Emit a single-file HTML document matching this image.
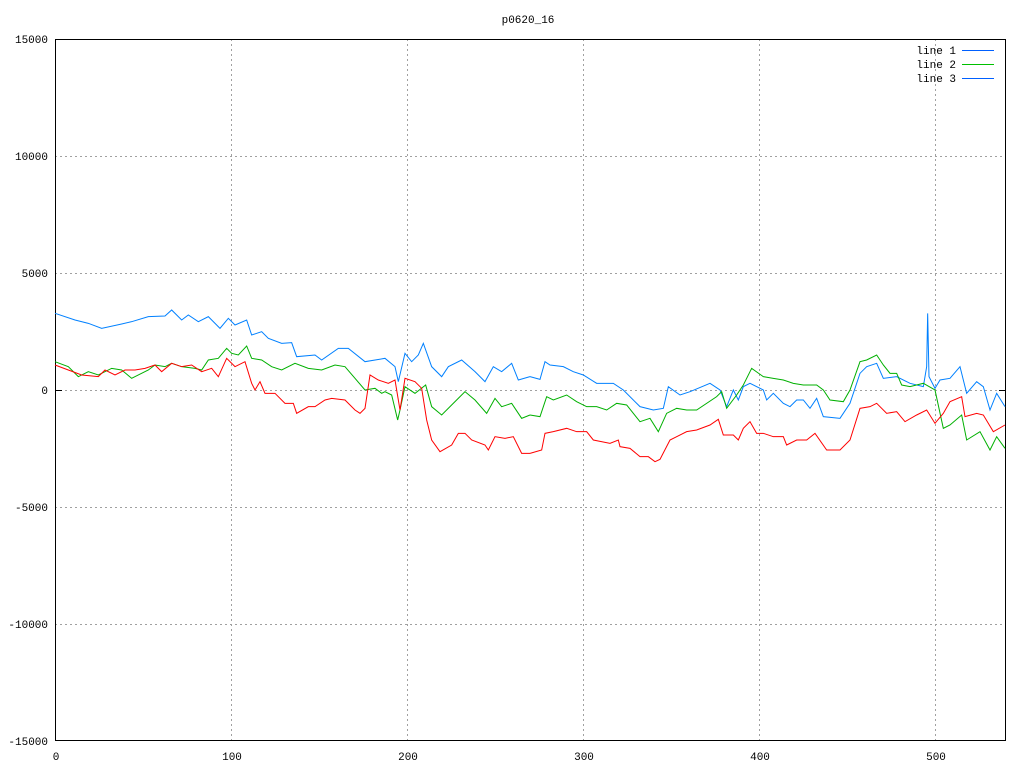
<!DOCTYPE html>
<html><head><style>
body{margin:0;background:#fff;}
svg{display:block;font-family:"Liberation Mono",monospace;font-size:11px;}
</style></head><body>
<svg width="1024" height="768" xmlns="http://www.w3.org/2000/svg">
<rect width="1024" height="768" fill="#fff"/>
<g stroke="#a0a0a0" stroke-dasharray="2,3" stroke-width="1">
<line x1="231.5" y1="39" x2="231.5" y2="741"/><line x1="407.5" y1="39" x2="407.5" y2="741"/><line x1="583.5" y1="39" x2="583.5" y2="741"/><line x1="759.5" y1="39" x2="759.5" y2="741"/><line x1="935.5" y1="39" x2="935.5" y2="741"/>
<line x1="55" y1="156.5" x2="1006" y2="156.5"/><line x1="55" y1="273.5" x2="1006" y2="273.5"/><line x1="55" y1="390.5" x2="1006" y2="390.5"/><line x1="55" y1="507.5" x2="1006" y2="507.5"/><line x1="55" y1="624.5" x2="1006" y2="624.5"/>
</g>
<rect x="55.5" y="39.5" width="950" height="701" fill="none" stroke="#000"/>
<g stroke="#000"><line x1="55" y1="390.5" x2="62" y2="390.5"/><line x1="999" y1="390.5" x2="1006" y2="390.5"/></g>
<g text-anchor="end">
<text x="48" y="43">15000</text><text x="48" y="160">10000</text><text x="48" y="277">5000</text><text x="48" y="394">0</text><text x="48" y="511">-5000</text><text x="48" y="628">-10000</text><text x="48" y="745">-15000</text>
</g>
<g text-anchor="middle">
<text x="56" y="760">0</text><text x="232" y="760">100</text><text x="408" y="760">200</text><text x="584" y="760">300</text><text x="760" y="760">400</text><text x="936" y="760">500</text>
<text x="528" y="23">p0620_16</text>
</g>
<g text-anchor="end"><text x="956" y="54">line 1</text><text x="956" y="68">line 2</text><text x="956" y="82">line 3</text></g>
<line x1="962" y1="50.5" x2="994" y2="50.5" stroke="#0060ff"/>
<line x1="962" y1="64.5" x2="994" y2="64.5" stroke="#00c000"/>
<line x1="962" y1="78.5" x2="994" y2="78.5" stroke="#0060ff"/>
<g fill="none" stroke-width="1">
<g transform="translate(55,300) scale(0.33333)">
<polyline vector-effect="non-scaling-stroke" stroke="#0080ff" points="0,40 60,60 100,70 140,85 200,72 230,65 280,50 330,48 350,30 380,60 400,45 430,65 460,50 495,85 520,55 540,75 575,60 590,105 620,95 640,115 680,130 710,128 725,170 780,165 800,180 850,145 880,145 930,185 990,175 1020,200 1030,245 1050,160 1070,185 1090,165 1105,130 1130,200 1160,230 1180,200 1220,180 1260,215 1290,245 1315,200 1340,215 1370,190 1390,240 1425,230"/>
<polyline vector-effect="non-scaling-stroke" stroke="#00b000" points="0,185 40,200 70,230 100,215 130,225 170,205 200,210 230,235 280,210 300,195 330,200 350,190 380,200 420,205 440,210 460,180 490,175 515,145 530,160 550,165 575,138 590,175 620,180 650,200 680,210 720,190 760,205 800,210 840,195 870,200 900,235 930,270 960,265 980,280 990,275 1010,285 1028,360 1035,330 1050,260 1080,280 1112,255 1130,320 1160,345 1200,305 1230,275 1260,300 1295,340 1320,295 1340,320 1370,310 1400,355 1425,345"/>
<polyline vector-effect="non-scaling-stroke" stroke="#ff0000" points="0,195 40,210 80,225 130,230 150,210 180,225 210,210 240,210 270,205 300,195 320,215 350,190 380,200 410,195 440,215 470,205 490,230 515,175 540,200 570,185 590,250 600,270 615,245 630,280 660,280 690,310 715,310 725,340 760,320 780,320 810,300 830,295 870,300 900,330 915,340 930,325 945,225 970,240 1000,250 1020,240 1035,330 1050,235 1080,245 1100,265 1115,360 1130,420 1155,455 1190,435 1210,400 1230,400 1250,420 1290,435 1300,450 1320,410 1350,415 1375,410 1400,460 1425,460"/>
</g>
<g transform="translate(530,300) scale(0.33333)">
<polyline vector-effect="non-scaling-stroke" stroke="#0080ff" points="0,230 30,238 45,185 60,195 100,200 130,215 160,225 200,250 250,250 280,270 330,320 370,330 400,325 415,260 450,285 480,275 540,250 570,270 590,320 610,270 625,300 640,260 660,250 700,270 710,300 730,280 760,310 780,320 800,300 820,300 840,325 860,295 880,350 930,355 960,310 990,220 1010,200 1040,190 1060,235 1100,230 1140,250 1180,260 1190,200 1193,40 1197,230 1215,265 1230,240 1260,235 1290,200 1310,280 1340,245 1360,260 1380,330 1400,280 1425,320"/>
<polyline vector-effect="non-scaling-stroke" stroke="#00b000" points="0,345 30,350 50,290 70,300 110,285 140,305 170,320 200,320 230,330 260,310 290,315 330,365 360,355 385,395 410,340 440,325 470,330 500,330 560,290 575,275 590,325 620,285 640,255 665,205 700,230 730,235 760,240 790,250 820,255 860,255 880,270 900,300 940,305 960,270 990,185 1010,180 1040,165 1060,195 1080,220 1100,220 1115,255 1140,260 1180,250 1215,270 1240,385 1260,375 1295,345 1310,420 1350,395 1380,450 1400,410 1425,445"/>
<polyline vector-effect="non-scaling-stroke" stroke="#ff0000" points="0,460 35,450 45,400 70,395 110,385 140,395 170,395 190,420 240,430 265,420 270,440 300,445 330,470 355,470 375,485 390,478 420,420 440,410 470,395 500,390 540,375 565,358 580,405 610,405 625,420 640,385 660,365 680,400 700,400 730,410 760,410 770,435 800,420 830,420 855,400 890,450 930,450 960,420 990,325 1020,320 1040,310 1070,340 1100,335 1125,365 1160,345 1190,330 1215,370 1240,340 1260,305 1295,290 1305,350 1340,340 1360,345 1390,395 1425,375"/>
</g>
</g>
</svg>
</body></html>
